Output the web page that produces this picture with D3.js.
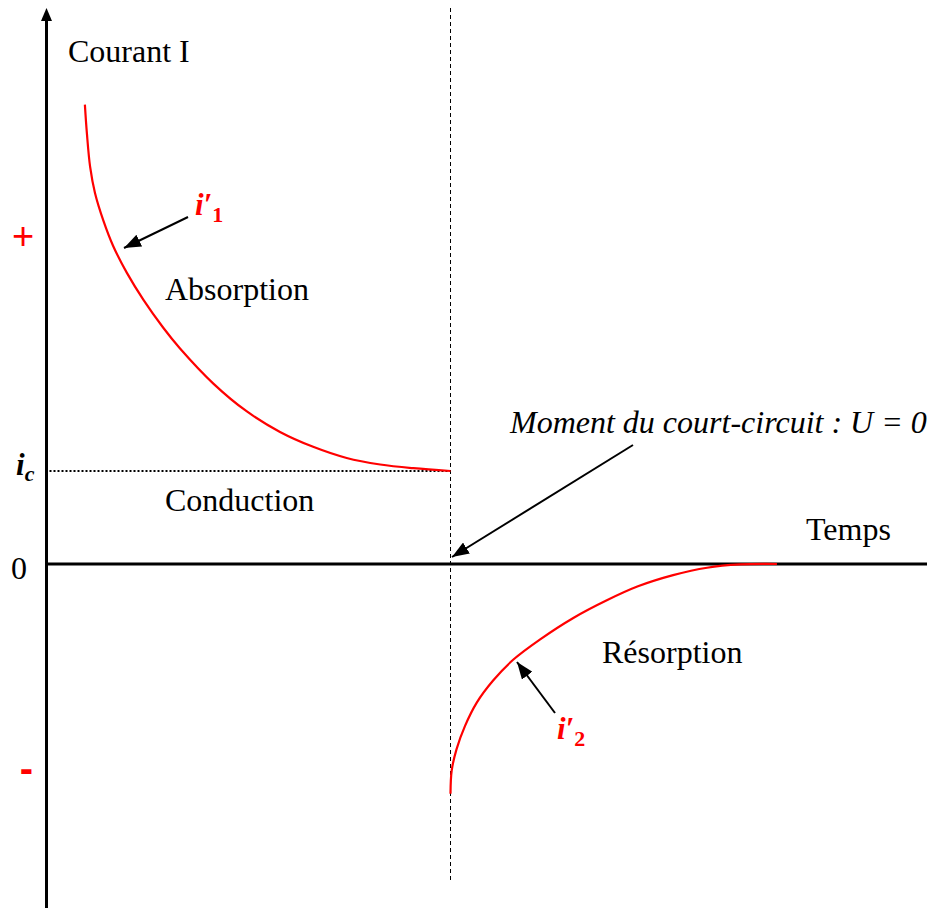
<!DOCTYPE html>
<html><head><meta charset="utf-8">
<script src="https://cdn.jsdelivr.net/npm/d3@7"></script>
<style>
html,body{margin:0;padding:0;background:#fff;}
svg{display:block;}
text{font-family:"Liberation Serif","Times New Roman",serif;}
</style></head>
<body>
<svg id="chart" width="927" height="908"></svg>
<script>
// ---- data (time in arbitrary units, current in units of i_c) ----
const absorptionTime    = [0.95,1.0,1.08,1.2,1.41,1.65,1.99,2.4,2.89,3.3,4.13,4.96,5.78,6.6,7.43,8.26,9.08,10];
const absorptionCurrent = [4.94,4.63,4.27,3.99,3.69,3.42,3.13,2.84,2.54,2.32,1.94,1.64,1.42,1.26,1.14,1.07,1.03,1.0];
const resorptionTime    = [10,10.03,10.15,10.36,10.65,11.06,11.55,12.22,13.04,13.87,14.64,15.51,16.35,17.17,18.08];
const resorptionCurrent = [-2.47,-2.22,-1.99,-1.74,-1.49,-1.25,-1.03,-0.81,-0.58,-0.39,-0.24,-0.12,-0.04,-0.005,0];
const conductionCurrent = 1;      // i_c
const shortCircuitTime  = 10;     // U = 0
const signLabels  = ["+","-"];
const signValues  = [3.54,-2.21];
const zeroLabel   = "0";

// ---- scales ----
const x = d3.scaleLinear().domain([0,10]).range([46.5,450.5]);
const y = d3.scaleLinear().domain([0,1]).range([564,471]);
const svg = d3.select("#chart");
const RED = "#ff0000";

svg.append("defs").append("marker")
  .attr("id","ah2").attr("viewBox","0 0 10 10").attr("refX",10).attr("refY",5)
  .attr("markerWidth",17).attr("markerHeight",13).attr("markerUnits","userSpaceOnUse")
  .attr("orient","auto").attr("preserveAspectRatio","none")
  .append("path").attr("d","M0,0 L10,5 L0,10 z").attr("fill","#000");

// dashed short-circuit line
svg.append("line")
  .attr("x1",x(shortCircuitTime)).attr("x2",x(shortCircuitTime))
  .attr("y1",8).attr("y2",882)
  .attr("stroke","#000").attr("stroke-width",1).attr("stroke-dasharray","4,3");

// dotted i_c line
svg.append("line")
  .attr("x1",x(0)+3).attr("x2",x(shortCircuitTime))
  .attr("y1",y(conductionCurrent)).attr("y2",y(conductionCurrent))
  .attr("stroke","#000").attr("stroke-width",2).attr("stroke-dasharray","2,2");

// axes
svg.append("line").attr("x1",x(0)).attr("x2",927).attr("y1",y(0)).attr("y2",y(0))
  .attr("stroke","#000").attr("stroke-width",3);
svg.append("line").attr("x1",x(0)).attr("x2",x(0)).attr("y1",908).attr("y2",18)
  .attr("stroke","#000").attr("stroke-width",3);
svg.append("path")
  .attr("d",`M${x(0)},8 L${x(0)-5.5},21 L${x(0)+5.5},21 Z`).attr("fill","#000");

// curves
const line = d3.line().x(d=>x(d[0])).y(d=>y(d[1])).curve(d3.curveCatmullRom.alpha(0.5));
svg.append("path").datum(d3.zip(absorptionTime,absorptionCurrent))
  .attr("d",line).attr("fill","none").attr("stroke",RED).attr("stroke-width",2.2);
svg.append("path").datum(d3.zip(resorptionTime,resorptionCurrent))
  .attr("d",line).attr("fill","none").attr("stroke",RED).attr("stroke-width",2.2);

// y labels
svg.append("text").attr("x",23).attr("y",y(signValues[0])+14).attr("text-anchor","middle")
  .style("font-family","'Liberation Sans',Arial,sans-serif")
  .attr("font-size",38).attr("fill",RED).text(signLabels[0]);
svg.append("text").attr("x",26.5).attr("y",y(signValues[1])+12).attr("text-anchor","middle")
  .style("font-family","'Liberation Sans',Arial,sans-serif")
  .attr("font-weight","bold").attr("font-size",40).attr("fill",RED).text(signLabels[1]);
svg.append("text").attr("x",19).attr("y",y(0)+15).attr("text-anchor","middle")
  .attr("font-size",32).text(zeroLabel);
const ic = svg.append("text").attr("x",16).attr("y",y(conductionCurrent)+4)
  .attr("font-size",31).attr("font-weight","bold").attr("font-style","italic");
ic.append("tspan").text("i");
ic.append("tspan").attr("font-size",22).attr("dy",6).text("c");

// region labels
const lab = (t,xx,yy,it)=>svg.append("text").attr("x",xx).attr("y",yy).attr("font-size",32)
  .attr("font-style",it?"italic":"normal").text(t);
lab("Courant I",68,62);
lab("Absorption",165,300);
lab("Conduction",165,511);
lab("Temps",806,540);
lab("Résorption",602,663);
lab("Moment du court-circuit : U = 0",510,433,true);

// i'1, i'2 labels
function primeLabel(xx,yy,sub){
  const t = svg.append("text").attr("x",xx).attr("y",yy).attr("fill",RED)
    .attr("font-size",31).attr("font-weight","bold").attr("font-style","italic");
  t.append("tspan").text("i′");
  t.append("tspan").attr("font-size",22).attr("font-style","normal").attr("dy",7).text(sub);
}
primeLabel(195,215,"1");
primeLabel(557,739,"2");

// annotation arrows
function arrow(x1,y1,x2,y2){
  svg.append("line").attr("x1",x1).attr("y1",y1).attr("x2",x2).attr("y2",y2)
    .attr("stroke","#000").attr("stroke-width",2).attr("marker-end","url(#ah2)");
}
arrow(188,217,124,248);
arrow(633,445,452,557);
arrow(555,713,517,662);
</script>
</body></html>
